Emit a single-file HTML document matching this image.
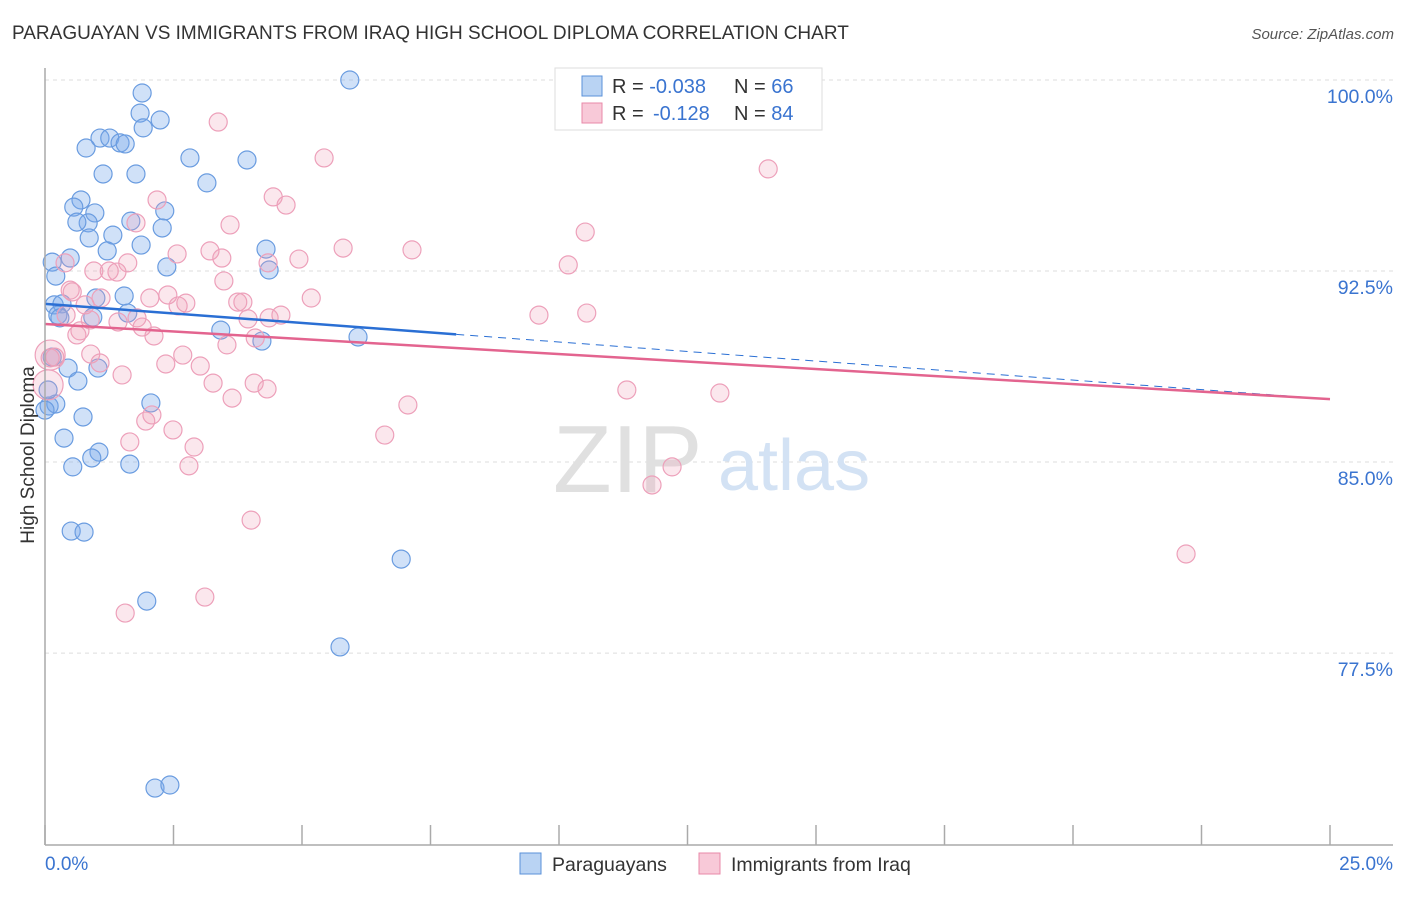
<!DOCTYPE html>
<html><head><meta charset="utf-8"><style>
body{margin:0;background:#fff;font-family:"Liberation Sans",sans-serif}
svg text{font-family:"Liberation Sans",sans-serif}
</style></head><body>
<svg id="chart" width="1406" height="892" viewBox="0 0 1406 892">
<text x="12" y="39" font-size="19" fill="#333">PARAGUAYAN VS IMMIGRANTS FROM IRAQ HIGH SCHOOL DIPLOMA CORRELATION CHART</text>
<text x="1394" y="39" font-size="15" fill="#555" font-style="italic" text-anchor="end">Source: ZipAtlas.com</text>
<g id="grid"></g>
<g>
<text x="553" y="492" font-size="96" fill="#e0e0e0" font-family="Liberation Serif">ZIP</text>
<text x="718" y="490" font-size="72" fill="#d3e2f4">atlas</text>
</g>
<g id="pts"></g>
<g id="lines"></g>
<line x1="45" y1="68" x2="45" y2="845" stroke="#aaa" stroke-width="1.5"/>
<line x1="45" y1="845" x2="1393" y2="845" stroke="#aaa" stroke-width="1.5"/>
<g id="xticks"></g>
<text x="45" y="870" font-size="19" fill="#3a74d0">0.0%</text>
<text x="1393" y="870" font-size="19" fill="#3a74d0" text-anchor="end">25.0%</text>
<text transform="translate(34,455) rotate(-90)" font-size="19" fill="#333" text-anchor="middle">High School Diploma</text>
<g>
<rect x="555" y="68" width="267" height="62" fill="#fff" stroke="#ddd"/>
<rect x="582" y="76" width="20" height="20" fill="#b9d3f3" stroke="#5a90d8"/>
<rect x="582" y="103" width="20" height="20" fill="#f8c9d8" stroke="#e889a8"/>
<text x="612" y="93" font-size="20" fill="#333">R = <tspan fill="#3a74d0">-0.038</tspan><tspan x="734">N = </tspan><tspan fill="#3a74d0">66</tspan></text>
<text x="612" y="120" font-size="20" fill="#333">R = <tspan x="653" fill="#3a74d0">-0.128</tspan><tspan x="734">N = </tspan><tspan fill="#3a74d0">84</tspan></text>
</g>
<g>
<rect x="520" y="853" width="21" height="21" fill="#b9d3f3" stroke="#5a90d8"/>
<text x="552" y="871" font-size="19.5" fill="#333">Paraguayans</text>
<rect x="699" y="853" width="21" height="21" fill="#f8c9d8" stroke="#e889a8"/>
<text x="731" y="871" font-size="19.5" fill="#333">Immigrants from Iraq</text>
</g>
</svg>
<script>
const yTicks=[100,92.5,85,77.5];
const yTickLabels=["100.0%","92.5%","85.0%","77.5%"];
const xTicks=[0,2.5,5,7.5,10,12.5,15,17.5,20,22.5,25];
const blueX=[5.93,1.89,1.85,2.24,1.91,1.07,1.26,1.46,1.56,0.80,2.82,3.93,1.13,1.77,3.15,0.70,0.56,2.33,0.97,1.67,0.84,0.62,2.28,1.32,0.86,1.87,0.49,4.30,1.21,0.14,2.37,4.36,0.21,1.54,0.99,0.18,0.33,0.25,0.93,1.61,0.29,3.42,4.22,6.09,0.14,0.45,1.03,0.64,0.08,0.21,2.06,0.74,0.37,1.05,0.91,1.65,0.54,0.51,0.76,6.93,1.98,5.74,2.14,2.43,0,0.06];
const blueY=[100,99.49,98.70,98.43,98.12,97.72,97.72,97.53,97.49,97.33,96.94,96.86,96.31,96.31,95.96,95.29,95.01,94.86,94.78,94.46,94.39,94.42,94.19,93.91,93.80,93.52,93.01,93.36,93.29,92.85,92.66,92.54,92.30,91.52,91.44,91.17,91.21,90.77,90.69,90.85,90.66,90.18,89.75,89.91,89.12,88.69,88.69,88.18,87.20,87.28,87.32,86.77,85.94,85.39,85.16,84.92,84.81,82.29,82.25,81.19,79.54,77.74,72.20,72.32,87.04,87.83];
const pinkX=[3.37,14.07,5.43,4.44,4.69,2.18,3.60,1.77,10.51,5.80,7.14,3.21,2.57,4.94,3.44,0.39,4.34,10.18,0.95,1.61,1.25,1.40,3.48,0.53,2.39,1.09,2.74,5.18,2.04,3.75,2.59,3.85,9.61,10.54,0.78,0.41,1.79,3.95,4.59,4.36,1.42,1.89,0.68,0.62,2.12,3.54,4.09,0.89,2.68,0.19,0.10,1.07,3.02,2.35,1.50,3.27,4.07,4.32,11.32,13.13,3.64,7.06,2.08,1.96,2.49,6.61,1.65,2.90,12.20,2.80,11.81,4.01,22.20,3.11,1.56,0.06,0.10,0.49,0.88];
const pinkY=[98.35,96.51,96.94,95.41,95.09,95.29,94.31,94.39,94.03,93.40,93.33,93.29,93.17,92.97,93.01,92.82,92.82,92.74,92.50,92.82,92.50,92.46,92.11,91.68,91.56,91.44,91.24,91.44,91.44,91.28,91.13,91.28,90.77,90.85,91.17,90.77,90.66,90.62,90.77,90.66,90.50,90.30,90.15,89.99,89.95,89.60,89.87,89.24,89.20,89.12,89.09,88.89,88.77,88.85,88.42,88.10,88.10,87.87,87.83,87.71,87.51,87.24,86.85,86.61,86.26,86.06,85.79,85.59,84.81,84.85,84.10,82.72,81.39,79.70,79.07,88.03,89.20,91.75,90.58];
const pinkBig=[75,76];
const blueTrend=[91.21,87.47]; const blueSolidEnd=8.0;
const pinkTrend=[90.42,87.47];
const NS="http://www.w3.org/2000/svg";
const X=v=>45+v*51.4, Y=v=>80+(100-v)*25.47;
function mk(t,a,p){const e=document.createElementNS(NS,t);for(const k in a)e.setAttribute(k,a[k]);p.appendChild(e);return e;}
const grid=document.getElementById('grid');
yTicks.forEach((t,i)=>{
 const l=mk('line',{x1:45,x2:1393,y1:Y(t),y2:Y(t),stroke:'#ddd','stroke-dasharray':'4 4'},grid);
 
 
 const tx=mk('text',{x:1393,y:Y(t)+23,'font-size':19.5,fill:'#3a74d0','text-anchor':'end'},grid);
 tx.textContent=yTickLabels[i];
 
 
});
const xt=document.getElementById('xticks');
xTicks.forEach(t=>{
 const l=mk('line',{x1:X(t),x2:X(t),y1:825,y2:845,stroke:'#aaa','stroke-width':1.5},xt);
 
 
});
const pts=document.getElementById('pts');
blueX.forEach((v,i)=>{
 const c=mk('circle',{cx:X(v),cy:Y(blueY[i]),r:9,fill:'rgba(120,170,235,0.35)',stroke:'#6a9ce0','stroke-width':1.2},pts);
 
 
});
pinkX.forEach((v,i)=>{
 const big=pinkBig.includes(i);
 const c=mk('circle',{cx:X(v),cy:Y(pinkY[i]),r:big?15:9,fill:'rgba(240,160,185,0.25)',stroke:'#eda0ba','stroke-width':1.2},pts);
 
 
});
const ln=document.getElementById('lines');
const by=v=>blueTrend[0]+(blueTrend[1]-blueTrend[0])*v/25;
let a=mk('line',{x1:X(0),y1:Y(by(0)),x2:X(blueSolidEnd),y2:Y(by(blueSolidEnd)),stroke:'#2a6fd4','stroke-width':2.5},ln);


a=mk('line',{x1:X(blueSolidEnd),y1:Y(by(blueSolidEnd)),x2:X(25),y2:Y(by(25)),stroke:'#2a6fd4','stroke-width':1,'stroke-dasharray':'8 6'},ln);


a=mk('line',{x1:X(0),y1:Y(pinkTrend[0]),x2:X(25),y2:Y(pinkTrend[1]),stroke:'#e3648f','stroke-width':2.5},ln);


</script>
</body></html>
